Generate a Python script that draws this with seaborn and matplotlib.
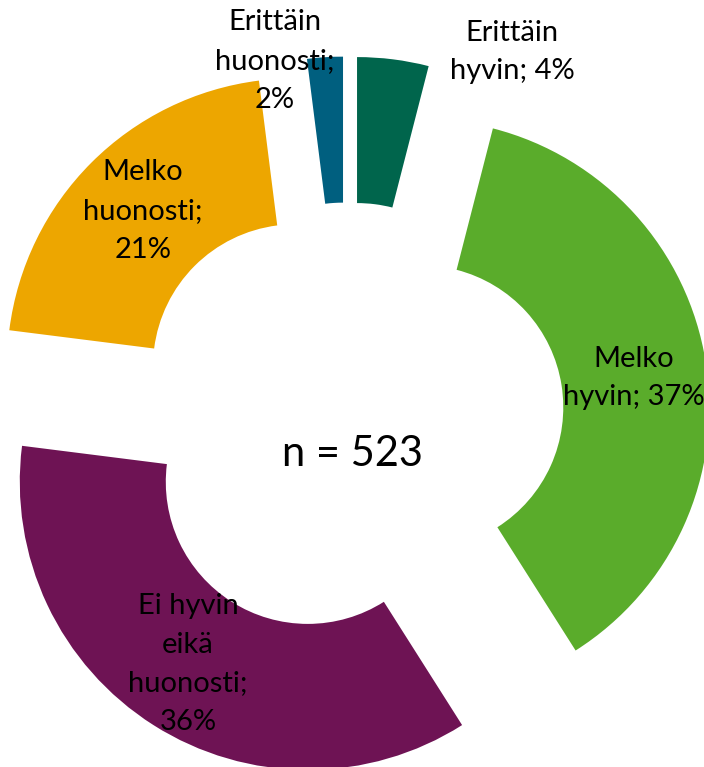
import matplotlib.pyplot as plt
import seaborn as sns

# vastaukset (osuudet %)
luokat = ['Erittäin hyvin', 'Melko hyvin', 'Ei hyvin eikä huonosti',
          'Melko huonosti', 'Erittäin huonosti']
osuudet = [4, 37, 36, 21, 2]
tekstit = ['Erittäin\nhyvin; 4%', 'Melko\nhyvin; 37%',
           'Ei hyvin\neikä\nhuonosti;\n36%', 'Melko\nhuonosti;\n21%',
           'Erittäin\nhuonosti;\n2%']
n_vastaajat = 523

varit = ['#00654C', '#5AAC2B', '#6E1354', '#EDA600', '#005F7F']
# tekstien paikat kuvan pikseleinä (x, y ylhäältä)
tekstipaikat = [(512, 52), (634, 378), (188, 664), (143, 211), (275, 61)]

sns.set_theme(style='white')
plt.rcParams['font.family'] = ['Lato', 'DejaVu Sans']

W, H = 704, 767
fig = plt.figure(figsize=(W / 100, H / 100), dpi=100)
ax = fig.add_axes([0, 0, 1, 1])

sade = 288
leveys = 146
keskus = (347.7, H - 419)
ax.pie(osuudet, colors=varit, startangle=90, counterclock=False,
       radius=sade, center=keskus, explode=[74.5] * len(osuudet),
       wedgeprops=dict(width=leveys, linewidth=0))

for teksti, (x, y) in zip(tekstit, tekstipaikat):
    ax.text(x, H - y, teksti, ha='center', va='center', fontsize=21,
            color='black', linespacing=1.6)

ax.text(353, H - 454, f'n = {n_vastaajat}', ha='center', va='center',
        fontsize=30, color='black')

ax.set_xlim(0, W)
ax.set_ylim(0, H)
ax.set_aspect('equal')
ax.axis('off')

plt.savefig('out.png', dpi=100)
plt.close()
